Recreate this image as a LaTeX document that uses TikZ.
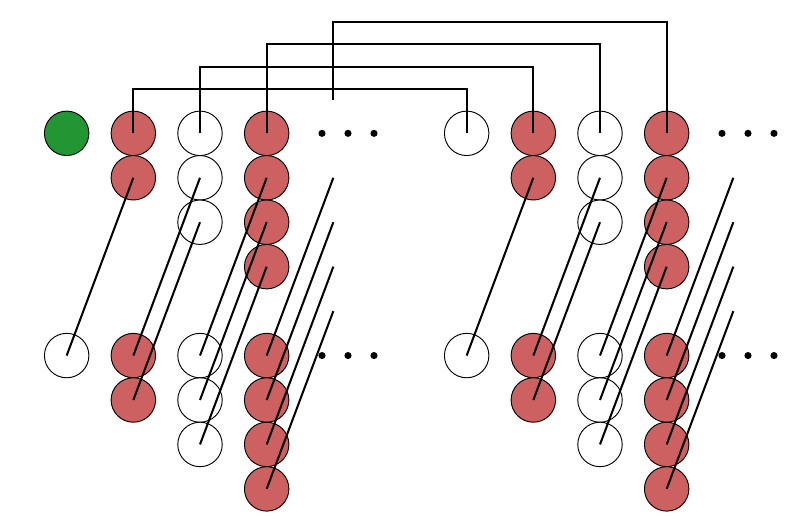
\documentclass[tikz,border=0pt]{standalone}
\usetikzlibrary{positioning}

\definecolor{unitred}{RGB}{205,96,96}
\definecolor{unitgreen}{RGB}{34,150,50}

\begin{document}
\begin{tikzpicture}[
    unit/.style={circle, draw, line width=0.6pt, minimum size=1cm, inner sep=0pt},
    redunit/.style={unit, fill=unitred},
    whiteunit/.style={unit, fill=white},
    greenunit/.style={unit, fill=unitgreen},
    link/.style={line width=1.3pt},
    dot/.style={circle, fill=black, minimum size=0.16cm, inner sep=0pt}
]
\useasboundingbox (0,0) rectangle (18,-11.745);

% Bias unit and first unit of the right copy
\node[greenunit] (a-0-1) at (1.5,-3) {};
\node[whiteunit] (b-0-1) at (10.5,-3) {};

% Two copies of the layer (a = left, b = right)
\foreach \g/\dx in {a/0, b/9} {
  % Top stacks
  \foreach \r in {1,2} \node[redunit] (\g-1-\r) at (3+\dx,-2-\r) {};
  \foreach \r in {1,2,3} \node[whiteunit] (\g-2-\r) at (4.5+\dx,-2-\r) {};
  \foreach \r in {1,...,4} \node[redunit] (\g-3-\r) at (6+\dx,-2-\r) {};
  \foreach \r in {1,...,4} \coordinate (\g-4-\r) at (7.5+\dx,-3-\r);

  % Bottom stacks
  \node[whiteunit] (\g-0-b1) at (1.5+\dx,-8) {};
  \foreach \r in {1,2} \node[redunit] (\g-1-b\r) at (3+\dx,-7-\r) {};
  \foreach \r in {1,2,3} \node[whiteunit] (\g-2-b\r) at (4.5+\dx,-7-\r) {};
  \foreach \r in {1,...,4} \node[redunit] (\g-3-b\r) at (6+\dx,-7-\r) {};

  % Dots
  \foreach \k in {0,1,2} {
    \node[dot] (\g-dt-\k) at (7.245+0.585*\k+\dx,-3) {};
    \node[dot] (\g-db-\k) at (7.245+0.585*\k+\dx,-8) {};
  }

  % Diagonal links
  \draw[link] (\g-1-2.center) -- (\g-0-b1.center);
  \foreach \s/\t in {2/1,3/2} \draw[link] (\g-2-\s.center) -- (\g-1-b\t.center);
  \foreach \s/\t in {2/1,3/2,4/3} \draw[link] (\g-3-\s.center) -- (\g-2-b\t.center);
  \foreach \r in {1,...,4} \draw[link] (\g-4-\r) -- (\g-3-b\r.center);
}

% Links between the copies
\coordinate (a-4-0) at (7.5,-2.25);
\draw[link] (a-1-1.center) -- ++(0,1) -| (b-0-1.center);
\draw[link] (a-2-1.center) -- ++(0,1.5) -| (b-1-1.center);
\draw[link] (a-3-1.center) -- ++(0,2) -| (b-2-1.center);
\draw[link] (a-4-0) -- ++(0,1.75) -| (b-3-1.center);

\end{tikzpicture}
\end{document}
